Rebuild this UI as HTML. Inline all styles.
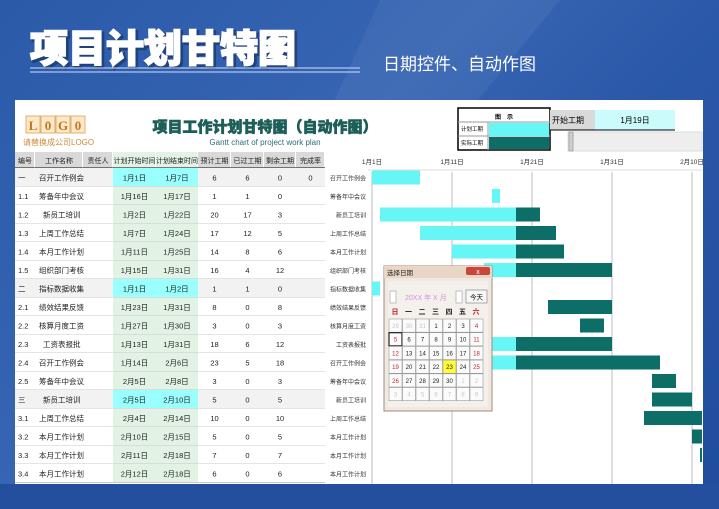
<!DOCTYPE html>
<html><head><meta charset="utf-8"><style>
html,body{margin:0;padding:0;width:719px;height:509px;overflow:hidden}
body{background:linear-gradient(135deg,#2a5aa8 0%,#3765b3 40%,#2b58a8 60%,#1f4c9c 100%);font-family:"Liberation Sans","Noto Sans CJK SC",sans-serif;position:relative}
svg{position:absolute;left:0;top:0}
</style></head><body>
<svg id="s" width="719" height="509" viewBox="0 0 719 509" font-family="Liberation Sans, Noto Sans CJK SC, sans-serif">
<polygon points="380,0 560,0 470,110 330,110" fill="#ffffff" opacity="0.05"/>
<text x="32" y="64" font-size="38" font-weight="900" fill="#1a3060" stroke="#1a3060" stroke-width="3" opacity="0.6">项目计划甘特图</text>
<text x="30" y="62" font-size="38" font-weight="900" fill="#fff" stroke="#fff" stroke-width="1.6">项目计划甘特图</text>
<line x1="30" y1="68" x2="360" y2="68" stroke="#cfe0ff" stroke-width="1"/>
<line x1="30" y1="72" x2="360" y2="72" stroke="#cfe0ff" stroke-width="1"/>
<text x="383" y="70" font-size="17" fill="#fff">日期控件、自动作图</text>
<rect x="15" y="100" width="688" height="384" fill="#fff"/>
<g>
<rect x="26" y="116" width="14" height="17" fill="#fde9c8" stroke="#e0b070"/><rect x="41" y="116" width="14" height="17" fill="#fde9c8" stroke="#e0b070"/><rect x="56" y="116" width="14" height="17" fill="#fde9c8" stroke="#e0b070"/><rect x="71" y="116" width="14" height="17" fill="#fde9c8" stroke="#e0b070"/>
<text x="33" y="130" font-size="13" font-weight="bold" fill="#c0781e" text-anchor="middle" font-family="Liberation Serif, serif">L</text>
<text x="48" y="130" font-size="13" font-weight="bold" fill="#c0781e" text-anchor="middle" font-family="Liberation Serif, serif">0</text>
<text x="63" y="130" font-size="13" font-weight="bold" fill="#c0781e" text-anchor="middle" font-family="Liberation Serif, serif">G</text>
<text x="78" y="130" font-size="13" font-weight="bold" fill="#c0781e" text-anchor="middle" font-family="Liberation Serif, serif">0</text>
<text x="23" y="145" font-size="8" fill="#d08a3a">请替换成公司LOGO</text>
</g>
<text x="265" y="132" font-size="15" font-weight="900" fill="#1c5e58" stroke="#1c5e58" stroke-width="0.6" text-anchor="middle">项目工作计划甘特图（自动作图）</text>
<text x="265" y="145" font-size="8" fill="#2a6e78" text-anchor="middle">Gantt chart of project work plan</text>
<g id="tbl"></g>
<g id="chart"></g>
<g>
<rect x="458" y="108" width="92" height="42" fill="#fff" stroke="#000" stroke-width="1.5"/>
<text x="504" y="119" font-size="6" text-anchor="middle" font-weight="bold">图　示</text>
<line x1="458" y1="122" x2="550" y2="122" stroke="#999"/>
<line x1="458" y1="136" x2="550" y2="136" stroke="#999"/>
<line x1="488" y1="122" x2="488" y2="150" stroke="#999"/>
<text x="461" y="131" font-size="5.5">计划工期</text>
<text x="461" y="145" font-size="5.5">实际工期</text>
<rect x="489" y="123" width="60" height="13" fill="#66f6f6"/>
<rect x="489" y="137" width="60" height="12" fill="#0d6e68"/>
</g>
<rect x="550" y="110" width="45" height="20" fill="#d9d9d9"/>
<text x="552" y="123" font-size="8">开始工期</text>
<rect x="595" y="110" width="80" height="20" fill="#ccfbfb"/>
<text x="635" y="123" font-size="8" text-anchor="middle">1月19日</text>
<line x1="550" y1="130" x2="675" y2="130" stroke="#000" stroke-width="1"/>
<rect x="568" y="132" width="134" height="19" fill="#eeeeee" stroke="#ddd"/>
<rect x="569" y="132" width="4" height="19" fill="#cfcfcf" stroke="#aaa"/>
<g id="cal"></g>
<rect x="0" y="484" width="719" height="25" fill="#234f9e"/>
</svg>
<script>
const ids=["一","1.1","1.2","1.3","1.4","1.5","二","2.1","2.2","2.3","2.4","2.5","三","3.1","3.2","3.3","3.4"];
const names=["召开工作例会","筹备年中会议","新员工培训","上周工作总结","本月工作计划","组织部门考核","指标数据收集","绩效结果反馈","核算月度工资","工资表报批","召开工作例会","筹备年中会议","新员工培训","上周工作总结","本月工作计划","本月工作计划","本月工作计划"];
const startM=[1,1,1,1,1,1,1,1,1,1,1,2,2,2,2,2,2];
const startD=[1,16,2,7,11,15,1,23,27,13,14,5,5,4,10,11,12];
const endM=[1,1,1,1,1,1,1,1,1,1,2,2,2,2,2,2,2];
const endD=[7,17,22,24,25,31,2,31,30,31,6,8,10,14,15,18,18];
const planned=[6,1,20,17,14,16,1,8,3,18,23,3,5,10,5,7,6];
const elapsed=[6,1,17,12,8,4,1,0,0,6,5,0,0,0,0,0,0];
const remaining=[0,0,3,5,6,12,0,8,3,12,18,3,5,10,5,7,6];
const rate=["0","","","","","","","","","","","","","","","",""];
const tickLabels=["1月1日","1月11日","1月21日","1月31日","2月10日"];
const tickDays=[0,10,20,30,40];
const todayDay=18;
const headers=["编号","工作名称","责任人","计划开始时间","计划结束时间","预计工期","已过工期","剩余工期","完成率"];
const NS="http://www.w3.org/2000/svg";
function el(tag,attrs,parent,txt){const e=document.createElementNS(NS,tag);for(const k in attrs)e.setAttribute(k,attrs[k]);if(txt!==undefined)e.textContent=txt;parent.appendChild(e);return e;}
const colX=[15,35,83,113,156,198,231,264,296,325];
const tbl=document.getElementById('tbl');
const rowTop=168,rowH=18.5;
const groupRow=i=>["一","二","三"].includes(ids[i]);
for(let c=0;c<9;c++){
 el('rect',{x:colX[c],y:152,width:colX[c+1]-colX[c]-1,height:16,fill:(c==3||c==4)?'#e2f3e6':'#d9d9d9'},tbl);
 const t=el('text',{x:(colX[c]+colX[c+1])/2,y:163,'font-size':7,'text-anchor':'middle',fill:'#222'},tbl,headers[c]);
 
 
}
el('line',{x1:15,y1:168,x2:325,y2:168,stroke:'#333','stroke-width':1.2},tbl);
for(let i=0;i<ids.length;i++){
 const y=rowTop+i*rowH,g=groupRow(i);
 el('rect',{x:15,y:y,width:310,height:rowH,fill:g?'#f2f2f2':'#fff'},tbl);
 el('rect',{x:113,y:y,width:85,height:rowH,fill:g?'#99ffff':'#e2f3e6'},tbl);
 el('line',{x1:15,y1:y+rowH,x2:325,y2:y+rowH,stroke:'#c8c8c8','stroke-width':1},tbl);
 const cy=y+rowH/2+3;
 const vals=[ids[i],names[i],"",startM[i]+"月"+startD[i]+"日",endM[i]+"月"+endD[i]+"日",planned[i],elapsed[i],remaining[i],rate[i]];
 for(let c=0;c<9;c++){
  if(vals[c]==="")continue;
  const left=c<2;
  const x=c==0?18:c==1?((ids[i]=="1.2"||ids[i]=="2.3"||ids[i]=="三")?43:39):(colX[c]+colX[c+1])/2;
  const t=el('text',{x:x,y:cy,'font-size':7.5,'text-anchor':left?'start':'middle',fill:'#222'},tbl,vals[c]);
  
  
 }
}
const ch=document.getElementById('chart');
const x0=372,pxDay=8,xMax=702;
const xs=d=>x0+d*pxDay;
const dayNum=(m,d)=>m==1?d-1:30+d;
for(let k=0;k<tickDays.length;k++){
 const x=xs(tickDays[k]);
 const t=el('text',{x:x,y:164,'font-size':6.5,'text-anchor':'middle',fill:'#333'},ch,tickLabels[k]);
 
 
 if(k>0){const l=el('line',{x1:x,y1:172,x2:x,y2:484,stroke:'#c8c8c8','stroke-width':1.2},ch);
 
 }
}
el('line',{x1:x0,y1:172,x2:x0,y2:484,stroke:'#bbb','stroke-width':1},ch);
el('line',{x1:368,y1:170,x2:702,y2:170,stroke:'#ddd'},ch);
for(let i=0;i<ids.length;i++){
 const y=rowTop+i*rowH;
 const lt=el('text',{x:366,y:y+rowH/2+3,'font-size':6,'text-anchor':'end',fill:'#333'},ch,names[i]);
 
 
 const s=dayNum(startM[i],startD[i]),e=dayNum(endM[i],endD[i]);
 const pe=Math.min(e,todayDay),as=Math.max(s,todayDay);
 if(pe>s){const a=xs(s),b=Math.min(xs(pe),xMax);if(b>a){
  const r=el('rect',{x:a,y:y+2.5,width:b-a,height:14,fill:'#66f6f6'},ch);
  
  }}
 if(e>as){const a=xs(as),b=Math.min(xs(e),xMax);if(b>a){
  const r=el('rect',{x:a,y:y+2.5,width:b-a,height:14,fill:'#0d6e68'},ch);
  
  }}
}
const cal=document.getElementById('cal');
el('rect',{x:384,y:266,width:108,height:145,fill:'#efe9e1',stroke:'#a08a78'},cal);
el('rect',{x:384,y:266,width:108,height:12,fill:'#e9d6c6'},cal);
el('text',{x:387,y:275,'font-size':6.5,fill:'#222'},cal,"选择日期");
const cb=el('rect',{x:466,y:267,width:24,height:8,fill:'#c8463a',rx:2},cal);


el('text',{x:478,y:274,'font-size':7,fill:'#fff','text-anchor':'middle'},cal,"x");
el('rect',{x:388,y:281,width:100,height:126,fill:'#f4f1ec'},cal);
el('rect',{x:390,y:291,width:6,height:12,fill:'#fff',stroke:'#888','stroke-width':.5},cal);
el('rect',{x:456,y:291,width:6,height:12,fill:'#fff',stroke:'#888','stroke-width':.5},cal);
el('text',{x:405,y:300,'font-size':7,fill:'#d88ee0'},cal,"20XX 年 X 月");
const tb=el('rect',{x:466,y:290,width:21,height:13,fill:'#f8f8f8',stroke:'#777','stroke-width':.6},cal);


el('text',{x:476.5,y:299.5,'font-size':6.5,'text-anchor':'middle'},cal,"今天");
const wd=["日","一","二","三","四","五","六"];
for(let c=0;c<7;c++)el('text',{x:395+c*13.5,y:314,'font-size':7,'font-weight':'bold','text-anchor':'middle',fill:(c==0||c==6)?'#c0282a':'#222'},cal,wd[c]);
const days=[29,30,31,1,2,3,4,5,6,7,8,9,10,11,12,13,14,15,16,17,18,19,20,21,22,23,24,25,26,27,28,29,30,1,2,3,4,5,6,7,8,9];
for(let k=0;k<42;k++){
 const r=Math.floor(k/7),c=k%7,x=389+c*13.5,y=319+r*13.7;
 const other=k<3||k>=33;
 const cell=el('rect',{x:x,y:y,width:13,height:13.2,fill:k==25?'#ffff33':'#fbfbfb',stroke:k==7?'#222':'#999','stroke-width':k==7?1.2:.6},cal);
 
 
 el('text',{x:x+6.5,y:y+9,'font-size':6,'text-anchor':'middle',fill:other?'#c8c8c8':(c==0||c==6)?'#c0282a':'#222'},cal,days[k]);
}
</script>
</body></html>
